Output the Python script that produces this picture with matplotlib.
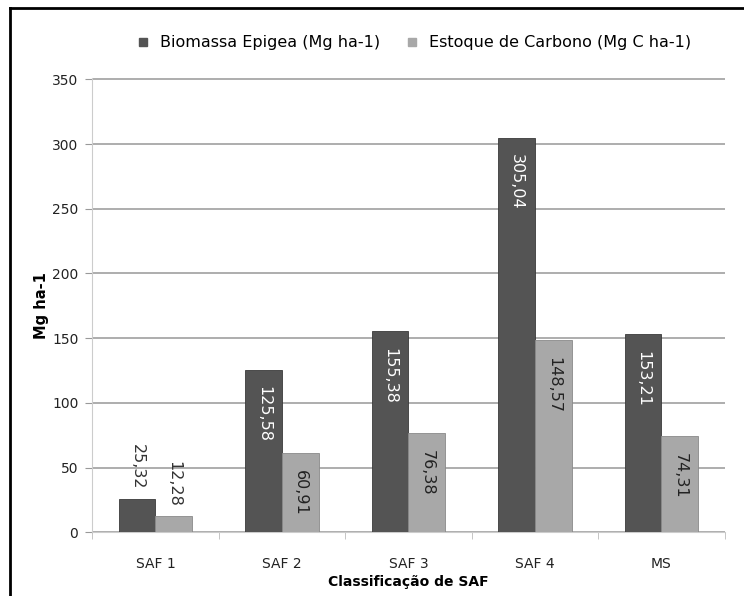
import numpy as np
import matplotlib.pyplot as plt
from matplotlib.lines import Line2D

plt.rcParams['font.family'] = ['DejaVu Sans']

categorias = ['SAF 1', 'SAF 2', 'SAF 3', 'SAF 4', 'MS']
biomassa = [25.32, 125.58, 155.38, 305.04, 153.21]
carbono = [12.28, 60.91, 76.38, 148.57, 74.31]
series = ['Biomassa Epigea (Mg ha-1)', 'Estoque de Carbono (Mg C ha-1)']
yticks = [0, 50, 100, 150, 200, 250, 300, 350]

cor_escura = '#545454'
cor_clara = '#a8a8a8'

fig = plt.figure(figsize=(7.44, 5.96), dpi=100)
ax = fig.add_axes([0.124, 0.107, 0.850, 0.762])

x = np.arange(len(categorias))
w = 0.29
b1 = ax.bar(x - w / 2, biomassa, w, color=cor_escura, edgecolor='#3a3a3a', linewidth=0.6,
            label=series[0], zorder=3)
b2 = ax.bar(x + w / 2, carbono, w, color=cor_clara, edgecolor='#8a8a8a', linewidth=0.6,
            label=series[1], zorder=3)


def rotulo(bars, valores, cor_dentro):
    for rect, v in zip(bars, valores):
        txt = f'{v:.2f}'.replace('.', ',')
        cx = rect.get_x() + rect.get_width() / 2
        if v > 50:
            ax.annotate(txt, (cx, v), xytext=(0, -12), textcoords='offset points',
                        rotation=-90, ha='center', va='top', fontsize=11.5,
                        color=cor_dentro, zorder=4)
        else:
            ax.annotate(txt, (cx, v), xytext=(0, 7), textcoords='offset points',
                        rotation=-90, ha='center', va='bottom', fontsize=11.5,
                        color='#333333', zorder=4)


rotulo(b1, biomassa, 'white')
rotulo(b2, carbono, '#222222')

ax.set_xlim(-0.5, len(categorias) - 0.5)
ax.set_ylim(0, 351)
ax.set_yticks(yticks)
ax.set_xticks(x)
ax.set_xticklabels(categorias)
ax.set_xticks(np.arange(len(categorias) + 1) - 0.5, minor=True)
ax.tick_params(axis='x', which='major', length=0, pad=18, labelsize=10, colors='#222222')
ax.tick_params(axis='x', which='minor', length=5, color='#bbbbbb')
ax.tick_params(axis='y', length=5, color='#999999', labelsize=10, colors='#222222', pad=5)
ax.yaxis.grid(True, color='#a0a0a0', linewidth=1.2, zorder=0)

for s in ['top', 'right']:
    ax.spines[s].set_visible(False)
ax.spines['left'].set_color('#cccccc')
ax.spines['bottom'].set_color('#cccccc')

ax.set_ylabel('Mg ha-1', fontweight='bold', fontsize=10.5, labelpad=2)
ax.set_xlabel('Classificação de SAF', fontweight='bold', fontsize=10, labelpad=3)

handles = [Line2D([], [], marker='s', linestyle='none', markersize=6,
                  markerfacecolor=c, markeredgecolor=c) for c in (cor_escura, cor_clara)]
fig.legend(handles, series, loc='center', bbox_to_anchor=(0.55, 0.928), ncol=2,
           frameon=False, fontsize=11.5, handletextpad=0.05, columnspacing=1.0)

# moldura (esquerda e topo)
fig.add_artist(Line2D([0.014, 0.014], [0.0, 0.987], transform=fig.transFigure,
                      color='black', linewidth=2))
fig.add_artist(Line2D([0.013, 1.0], [0.987, 0.987], transform=fig.transFigure,
                      color='black', linewidth=2))

fig.savefig('out.png', dpi=100)
